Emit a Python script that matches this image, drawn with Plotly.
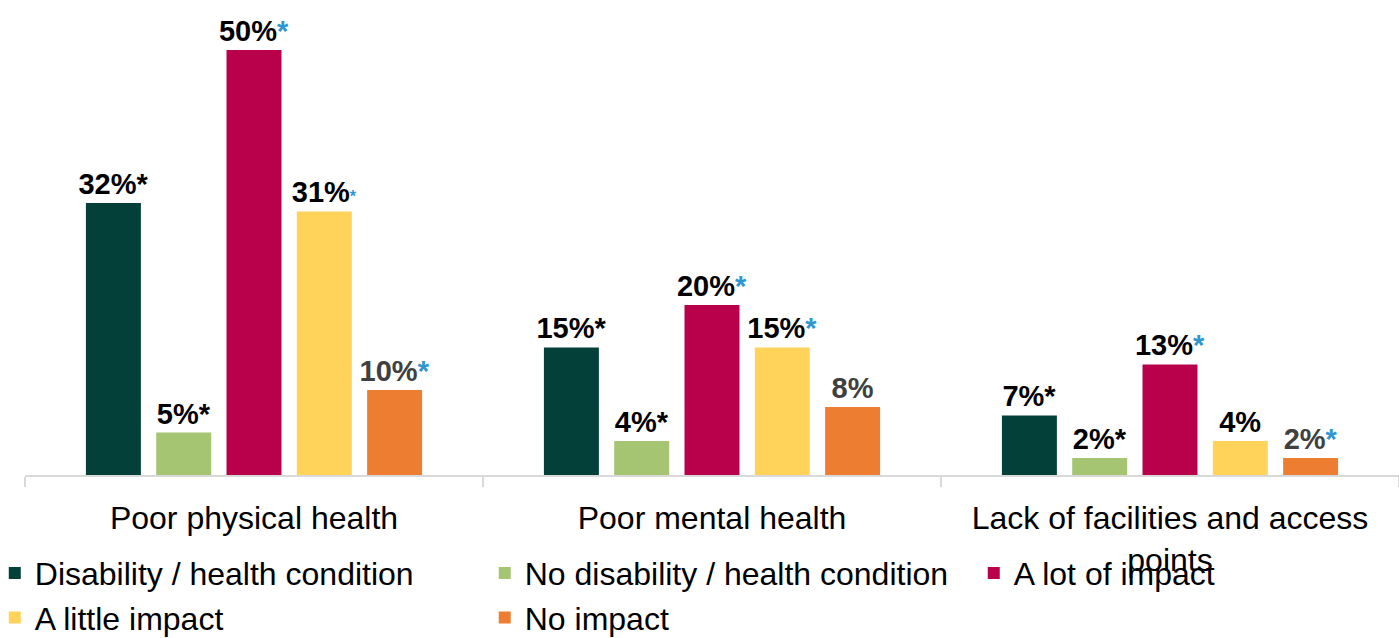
import plotly.graph_objects as go

# Categories and series values (percent)
categories = ["Poor physical health", "Poor mental health",
              "Lack of facilities and access<br>points"]
series_names = ["Disability / health condition", "No disability / health condition",
                "A lot of impact", "A little impact", "No impact"]
disability = [32, 15, 7]
no_disability = [5, 4, 2]
a_lot_impact = [50, 20, 13]
a_little_impact = [31, 15, 4]
no_impact = [10, 8, 2]

# Significance markers per bar: "" none, "k" black asterisk, "b" blue asterisk, "s" small blue
disability_sig = ["k", "k", "k"]
no_disability_sig = ["k", "k", "k"]
a_lot_sig = ["b", "b", "b"]
a_little_sig = ["s", "b", ""]
no_impact_sig = ["b", "", "b"]

series_values = [disability, no_disability, a_lot_impact, a_little_impact, no_impact]
series_sig = [disability_sig, no_disability_sig, a_lot_sig, a_little_sig, no_impact_sig]
colors = ["#03403A", "#A6C573", "#B8004B", "#FFD35A", "#ED7D31"]
label_colors = ["#000000", "#000000", "#000000", "#000000", "#404040"]
# legend column of each series (three columns laid out left to right)
legend_ids = ["legend", "legend2", "legend3", "legend", "legend2"]

STAR_BLUE = "#2F97CF"
FONT = "Liberation Sans, Arial, sans-serif"


def make_label(value, sig):
    base = f"{value}%"
    if sig == "k":
        return base + "*"
    if sig == "b":
        return base + f"<span style='color:{STAR_BLUE}'>*</span>"
    if sig == "s":
        return base + f"<span style='color:{STAR_BLUE};font-size:16px'>*</span>"
    return base


fig = go.Figure()
for name, vals, sigs, col, lcol, lg in zip(series_names, series_values, series_sig,
                                           colors, label_colors, legend_ids):
    fig.add_trace(go.Bar(
        name=name,
        x=categories,
        y=vals,
        marker=dict(color=col, line=dict(width=0)),
        text=[make_label(v, s) for v, s in zip(vals, sigs)],
        textposition="outside",
        constraintext="none",
        cliponaxis=False,
        textfont=dict(family=FONT, size=29, color=lcol, weight="bold"),
        hoverinfo="skip",
        legend=lg,
    ))


def legend_column(x):
    return dict(
        orientation="v",
        x=x,
        xanchor="left",
        y=-0.152,
        yanchor="top",
        font=dict(family=FONT, size=32, color="#000000"),
        traceorder="normal",
        bgcolor="rgba(0,0,0,0)",
        itemclick=False,
    )


fig.update_layout(
    width=1399,
    height=638,
    barmode="group",
    bargap=0.2325,
    bargroupgap=0.218,
    plot_bgcolor="white",
    paper_bgcolor="white",
    font=dict(family=FONT, color="#000000"),
    margin=dict(l=25, r=0, t=10, b=163, autoexpand=False),
    showlegend=True,
    legend=legend_column(-0.022),
    legend2=legend_column(0.3346),
    legend3=legend_column(0.6905),
    xaxis=dict(
        showline=True,
        linecolor="#D9D9D9",
        linewidth=1.5,
        ticks="outside",
        tickson="boundaries",
        ticklen=10,
        tickcolor="#D9D9D9",
        tickwidth=1.5,
        ticklabelstandoff=14,
        tickfont=dict(family=FONT, size=32, color="#000000"),
        showgrid=False,
    ),
    yaxis=dict(
        range=[0, 54.7],
        visible=False,
        showgrid=False,
        zeroline=False,
    ),
)

fig.write_html("out.html")
